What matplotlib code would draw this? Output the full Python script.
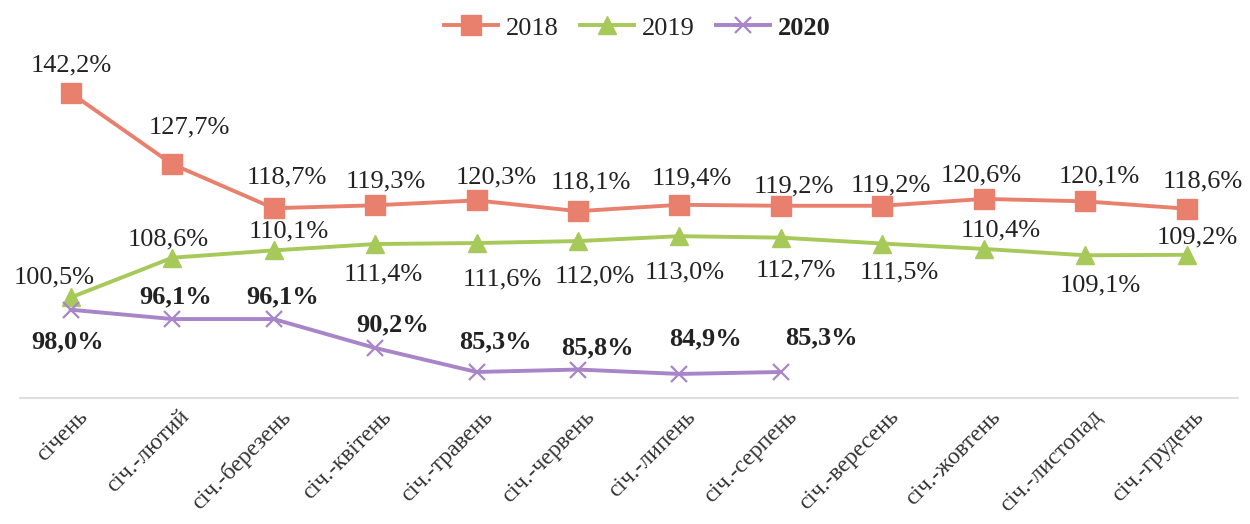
import matplotlib
matplotlib.use("Agg")
import matplotlib.pyplot as plt
from matplotlib.lines import Line2D

categories = ["січень", "січ.-лютий", "січ.-березень", "січ.-квітень", "січ.-травень",
              "січ.-червень", "січ.-липень", "січ.-серпень", "січ.-вересень",
              "січ.-жовтень", "січ.-листопад", "січ.-грудень"]
v2018 = [142.2, 127.7, 118.7, 119.3, 120.3, 118.1, 119.4, 119.2, 119.2, 120.6, 120.1, 118.6]
v2019 = [100.5, 108.6, 110.1, 111.4, 111.6, 112.0, 113.0, 112.7, 111.5, 110.4, 109.1, 109.2]
v2020 = [98.0, 96.1, 96.1, 90.2, 85.3, 85.8, 84.9, 85.3]

# label offsets in pixels (dx, dy) -- styling only
off2018 = [(1, 28), (17, 37), (13, 31), (11, 24), (20, 23), (13, 29), (12, 26), (13, 19),
           (8, 20), (-3, 23), (14, 25), (16, 27)]
off2019 = [(-17, 20), (-4, 18), (15, 19), (8, -30), (26, -36), (17, -35), (5, -36), (15, -33),
           (17, -29), (17, 18), (15, -30), (11, 17)]
off2020 = [(-3, -32), (3, 22), (9, 22), (18, 23), (19, 30), (19, 22), (26, 35), (41, 34)]

c18 = "#E9806E"
c19 = "#A6C95A"
c20 = "#A884C8"

fig = plt.figure(figsize=(12.5, 5.24), dpi=100)
ax = fig.add_axes([0.016, 0.2405, 0.974, 0.655])
x = list(range(len(categories)))
serif = ["Liberation Serif", "DejaVu Serif"]

ax.plot(x, v2018, color=c18, lw=2.8, marker="s", ms=14, mec=c18, mfc=c18)
ax.plot(x, v2019, color=c19, lw=2.8, marker="^", ms=13, mec=c19, mfc=c19)
ax.plot(x[:len(v2020)], v2020, color=c20, lw=2.8, marker="x", ms=11, mew=1.6, mec=c20)

pt = 72 / 100.0
def lab(xs, vs, offs, bold=False):
    for xi, v, (dx, dy) in zip(xs, vs, offs):
        ax.annotate(f"{v:.1f}%".replace(".", ","), (xi, v), xytext=(dx * pt, dy * pt),
                    textcoords="offset points", ha="center", va="center",
                    fontsize=19, family=serif, color="#222222",
                    fontweight="bold" if bold else "normal")

lab(x, v2018, off2018)
lab(x, v2019, off2019)
lab(x[:len(v2020)], v2020, off2020, bold=True)

ax.set_xlim(-0.5, len(categories) - 0.5)
ax.set_ylim(80, 150)
ax.set_yticks([])
for s in ["left", "right", "top"]:
    ax.spines[s].set_visible(False)
ax.spines["bottom"].set_color("#d9d9d9")
ax.spines["bottom"].set_linewidth(1.2)
ax.set_xticks(x)
ax.set_xticklabels(categories, rotation=45, ha="right", rotation_mode="anchor",
                   fontsize=17, family=serif, color="#333333")
ax.tick_params(axis="x", length=0, pad=6)
for t in ax.get_xticklabels():
    t.set_transform(t.get_transform() + matplotlib.transforms.ScaledTranslation(6 / 100, 0, fig.dpi_scale_trans))

handles = [Line2D([], [], color=c18, lw=2.8, marker="s", ms=14),
           Line2D([], [], color=c19, lw=2.8, marker="^", ms=13),
           Line2D([], [], color=c20, lw=2.8, marker="x", ms=11, mew=1.6)]
leg = fig.legend(handles, ["2018", "2019", "2020"], loc="center", bbox_to_anchor=(0.51, 0.947),
                 ncol=3, frameon=False, handlelength=2.05, columnspacing=0.8, handletextpad=0.3,
                 prop={"family": serif, "size": 19})
leg.get_texts()[2].set_fontweight("bold")
for t in leg.get_texts():
    t.set_color("#222222")

fig.savefig("out.png", dpi=100, facecolor="white")
